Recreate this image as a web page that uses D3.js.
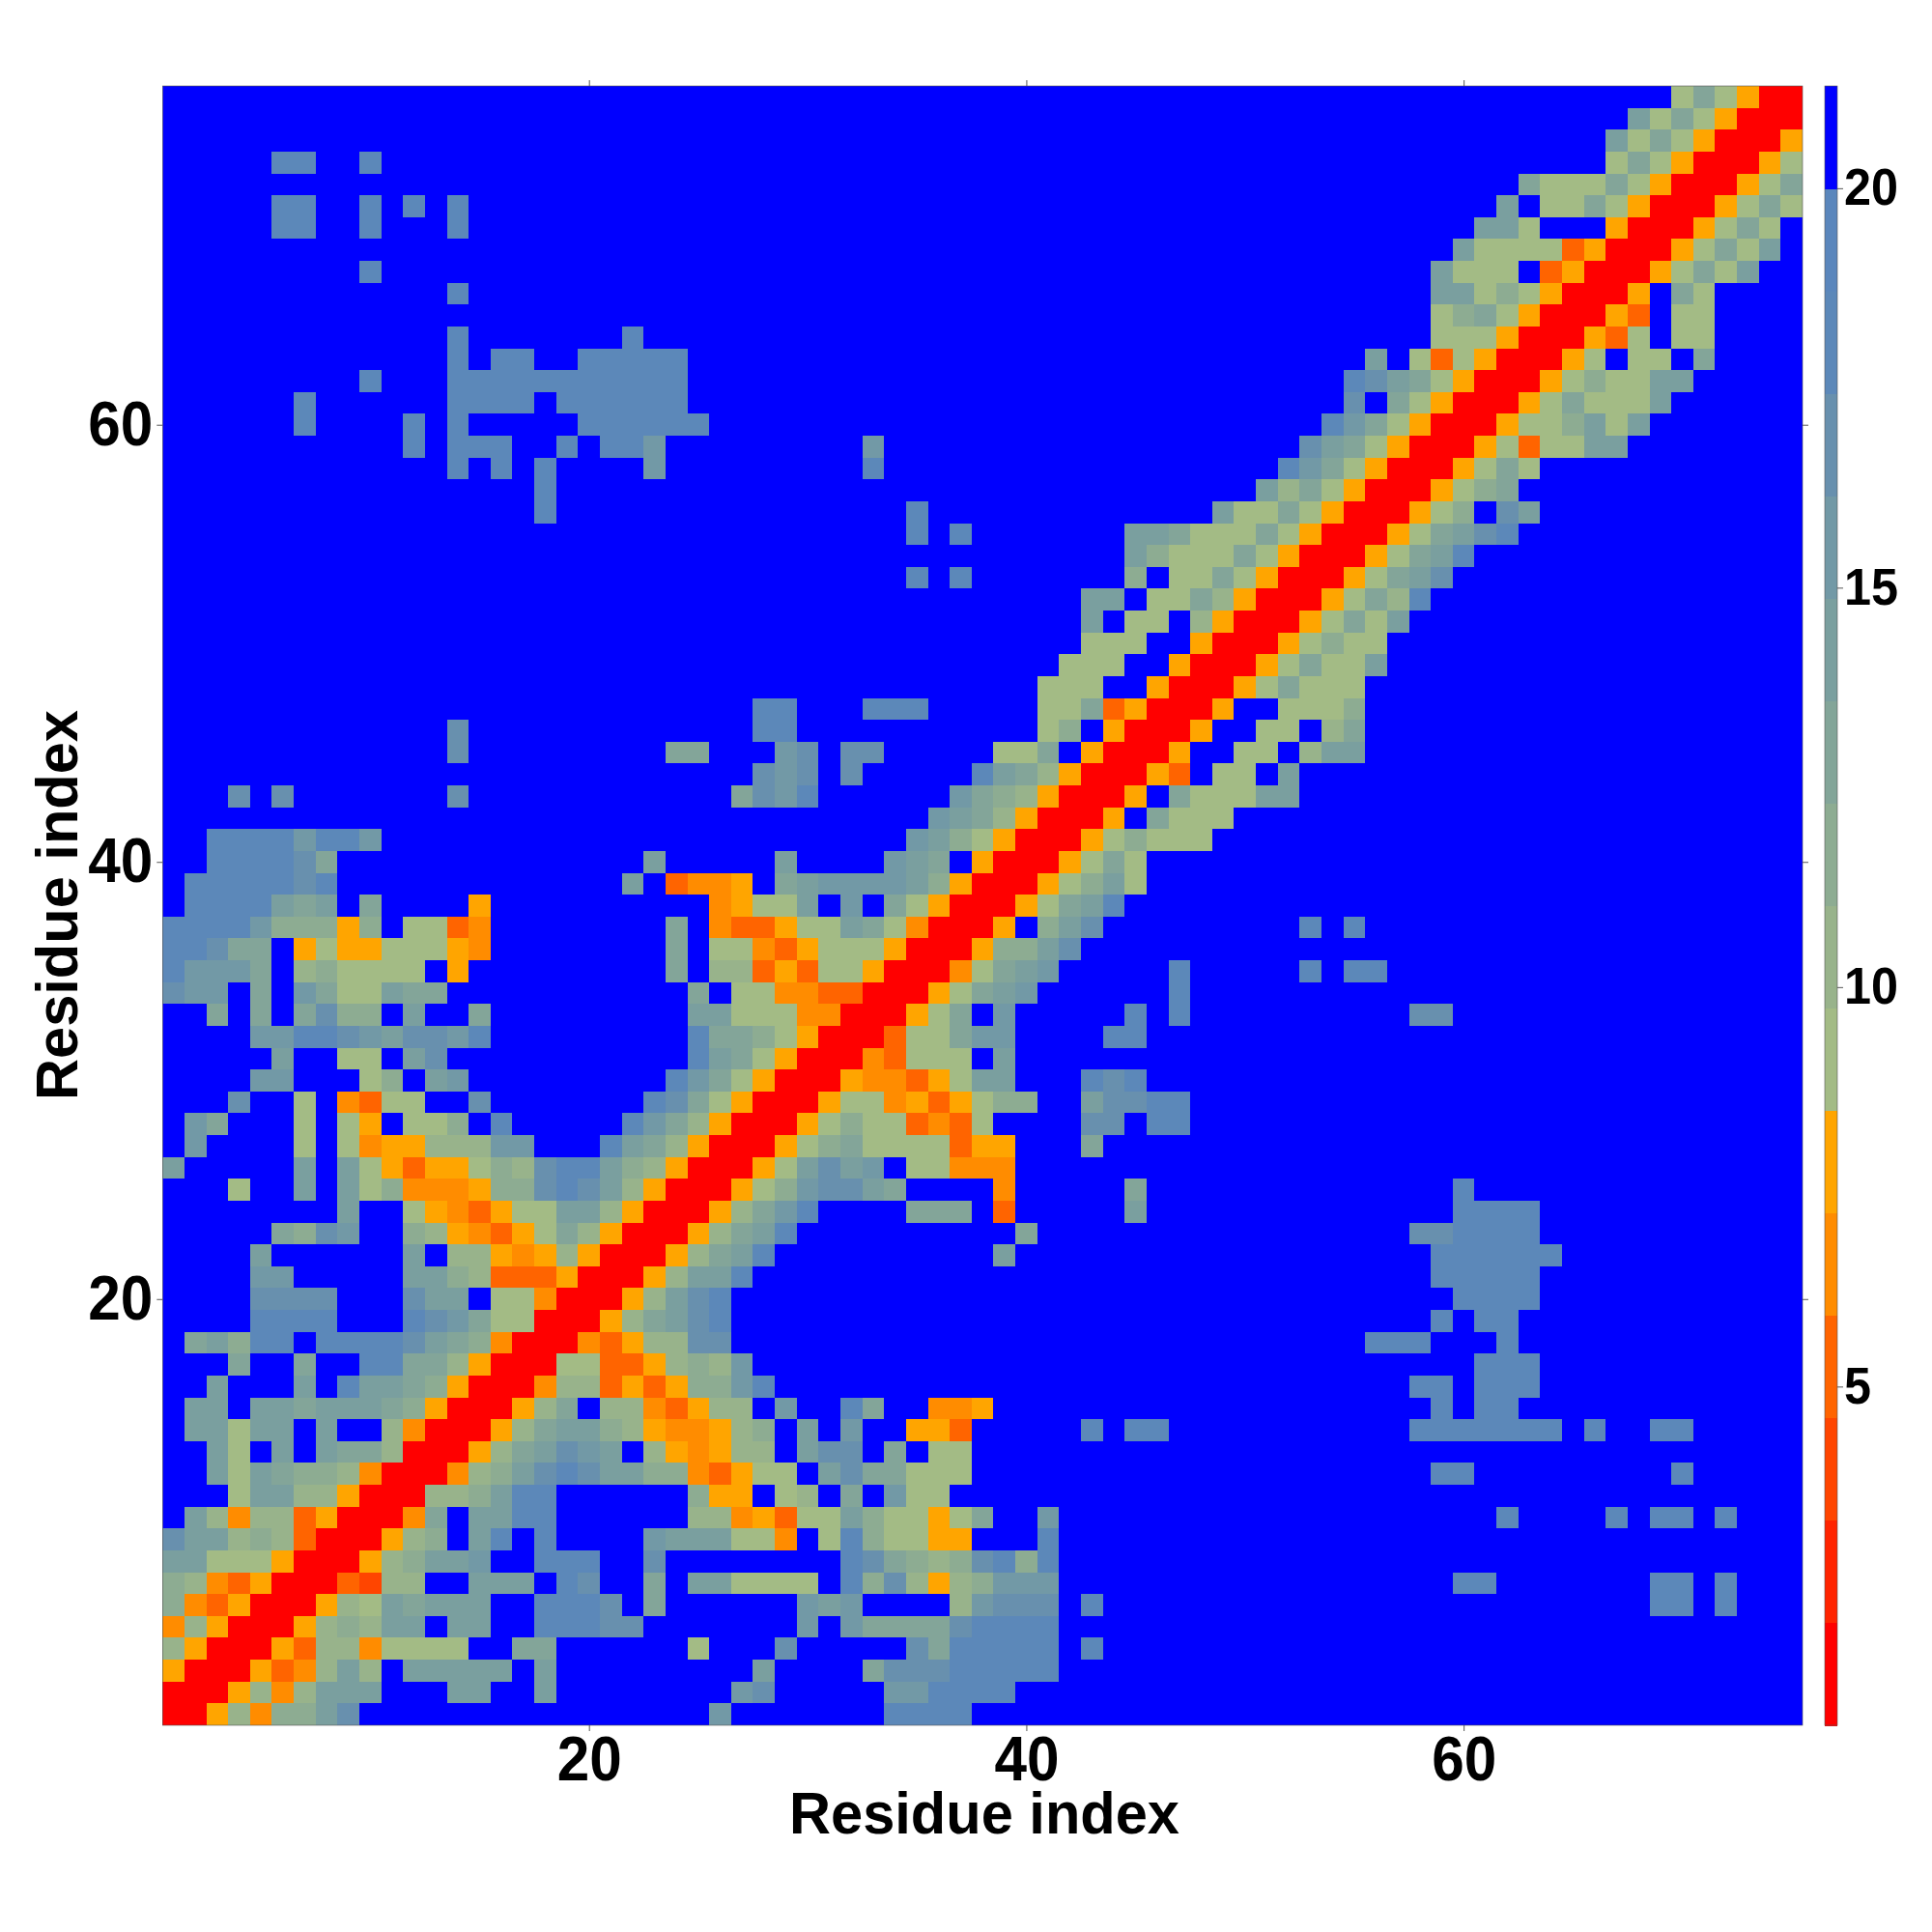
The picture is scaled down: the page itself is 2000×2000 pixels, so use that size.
<!DOCTYPE html>
<html><head><meta charset="utf-8">
<style>html,body{margin:0;padding:0;background:#fff}svg{display:block}</style>
<script src="https://cdn.jsdelivr.net/npm/d3@7"></script>
</head><body>
<div id="chart"></div>
<script>
// Colour classes, lowest distance to highest
const levelCodes = "R12345abcdefghi.";
const levelColors = ["#ff0000","#ff2400","#ff4500","#ff6400","#ff8c00","#ffa500",
  "#a3bb85","#98b38b","#8dac92","#83a599","#7a9f9f","#7299a6","#6890ae","#5c88b9","#5a86bc","#0000ff"];
const colorDomain = [0.76, 21.28];
const axisTicks = [20, 40, 60];
const barTicks = [5, 10, 15, 20];
const axisTitle = "Residue index";
const residueCount = 75;
// Runs of cells per row, top row (residue 75) first: "column:classes"
const rowRuns = [
"70:ada5RR",
"68:eada5RRR",
"67:eada5RRR5",
"6:hh 10:h 67:ada5RRR5a",
"63:daaada5RRR5ad",
"6:hh 12:h 10:h 14:h 62:e.aada5RRR5ada",
"6:hh 10:h 14:h 61:eea...5RRR5ada",
"60:eaaaa35RRR5adae",
"10:h 59:eaaa.35RRR5adae",
"14:h 59:eeaca5RRR5.da",
"59:acda5RRR53.aa",
"14:h 22:h 59:aaa5RRR53a.aa",
"14:h 16:hh 20:hhhhh 56:e.a3a5RRR5a.aa.d",
"10:h 14:hhhhhhhhhhh 55:hgeda5RRR5acaaee",
"7:h 14:hhhh 19:hhhhhh 55:g.da5RRR5adaaae",
"7:h 12:h 14:h 20:hhhhhh 54:hfda5RRR5aaceae",
"12:h 14:hhh 19:h 21:hhf 33:f 53:geda5RRR5a3aaee",
"14:h 16:h 18:h 23:f 33:h 52:hfda5RRR5ada",
"18:h 51:ebda5RRR5acd",
"18:h 35:h 49:eaada5RRR5ac.ge",
"35:h 37:h 45:eedaaada5RRR5adegh",
"45:ecaaada5RRR5adeh",
"35:h 37:h 45:c.aada5RRR5adeg",
"43:ee.aadb5RRR5adbh",
"43:e.aa.b5RRR5adae",
"43:aaa..5RRR5acaa",
"42:aaa..5RRR5adaae",
"41:aaa..5RRR5adaaa",
"28:hh 33:hhh 41:aad35RRR5..aaac",
"14:g 28:hh 41:ac.5RRR5..aa.bd",
"14:g 24:dd 29:fg 32:gg 39:aad.5RRR5..aa.bee",
"28:gfg 32:g 38:hedb5RRR53.aa.e",
"4:g 6:g 14:g 27:dgfh 37:fdcb5RRR5.daaaee",
"36:fedb5RRR5.daaa",
"3:hhhhfhhf 35:feca5RRR5acaaa",
"3:hhhhgd 23:e 29:e 34:fed.5RRR5ada",
"2:hhhhhgh 22:e 24:3445.deffffec5RRR5acea",
"2:hhhhede.d 15:5 26:45aae.f.da5RRR5adeh",
"1:hhhhfccc5c.aa34 24:d 26:4335aaeda4RRR5.ceg 53:h 55:h",
"1:hhgdd.5a55aaa54 24:d 26:aa435aaa5RRR5cceg",
"1:hfffd.bcaaaa.5 24:d 26:bb353aa5RRR4adef 47:h 53:h 55:hh",
"1:gff.d.fdaaedd 25:d.aa4433RRR5adef 47:h",
"3:d 5:d 7:dgcc.e 15:d 25:eeaaa44RRR5ad.f 45:h 47:h 58:gg",
"5:ffhhgfeggfh 25:hddca5RRR3aadff 44:hh",
"6:e 9:aa.eg 25:heda5RRR43aaa.e",
"5:ff 10:ac.ef 24:hfda5RRR54435aee 43:hgh",
"4:g 7:a 9:43aa 15:g 23:hgda5RRR5aa4535acc 43:egghh",
"2:fd 7:a 9:a5.aac.h 22:hfdb5RRR5acaa343a 43:gg 46:hh",
"2:f 7:a 9:a455bbbff 21:hedb5RRR5acdaaaa355 43:d",
"1:e 7:e 9:ea5355acbghhecb5RRR5aegef.aa444",
"4:a 7:e 9:eac4445ccghgeb5RRR5acfgged 39:4 45:d 60:h",
"9:e 12:a5435aaeeb5RRR5bdfh 35:ddd 39:3 45:e 60:hhhh",
"6:dcgf 12:cb5435adb5RRR5bdeh 40:d 58:gghhhh",
"5:e 12:e.bb545b5RRR5bdeh 39:e 59:hhhhhh",
"5:ff 12:eecb3335RRR5beeh 59:hhhhh",
"5:gggg 12:gee.aa4RRR5begh 60:hhhh",
"5:hhhh 12:hgfdaaRRR5bdegh 59:h 61:hh",
"2:dechh.hhhhgedc4RRR435bbgg 56:hhh 62:h",
"4:d 7:d 10:hhddb5RRRaa335bcbf 61:hhh",
"3:e 7:e 9:heedc5RRR4bb3535ccfh 58:hh 61:hhh",
"2:ee 5:eedeeedc5RRR5bd.bb435bb.f..hd..445 59:h 61:hh",
"2:eeaee.e..b4RRR5bdeecb5445bc.e.f..553 43:h 45:hh 58:hhhhhhh 66:h 69:hh",
"3:ea.e.eddbRRR5bdegfe.b545bb.egg.d.aa",
"3:eaedccb4RRR4bceghgeecc435aa.egddaaa 59:hh 70:h",
"4:aeebb5RRRbbcehh......c55.ab.d.faa",
"2:eb4bb35RRR4d.eehh 25:bb453aaecaa5ad 41:f 62:h 67:h 69:hh 72:h",
"1:geebcb3RRR5bc.eh.h....feeeaa4.ahcaa55 41:h",
"1:eeaaa5RRR5bceef..hhh..g 32:hgdcbcghch",
"1:cb435RRR32bb..eee.hg..d.eeaaaa.hcgb5bcfff 60:hh 69:hh 72:h",
"1:c435RRR5baedeee..hhhg.d 30:fef 37:bfggg 43:h 69:hh 72:h",
"1:4b5RRR5bcbee.ee..hhhgg 30:f.fddddghhhh",
"1:b5RRR53bb4aaaa..dd 25:a 29:g 35:gdhhhhh 43:h",
"1:5RRR534beb.eeeee.e 28:e 33:dggghhhhh",
"1:RRR5b4beee...ee..e 27:fg 34:ffhhhh",
"1:RR5b4cceg 26:f 34:hhhh"
];

const font = '"Liberation Sans", Arial, sans-serif';
const W = 2000, H = 2000;
const plot = {l:168.3, r:1866, t:89, b:1786};
const bar = {l:1889, r:1902};

const svg = d3.select("#chart").append("svg").attr("width",W).attr("height",H)
  .style("font-family",font);

const x = d3.scaleLinear().domain([0.5,residueCount+0.5]).range([plot.l,plot.r]);
const y = d3.scaleLinear().domain([0.5,residueCount+0.5]).range([plot.b,plot.t]);
const step = (colorDomain[1]-colorDomain[0])/levelColors.length;
const color = d3.scaleQuantize().domain(colorDomain).range(levelColors);
const valueOf = code => colorDomain[0]+(levelCodes.indexOf(code)+0.5)*step;

const cells = [];
rowRuns.forEach((line,i)=>{
  const row = residueCount-i;
  line.split(" ").forEach(run=>{
    const [start,codes] = run.split(":");
    [...codes].forEach((code,k)=>{
      if(code!==".") cells.push({col:+start+k,row,value:valueOf(code)});
    });
  });
});

// background: the top class
svg.append("rect").attr("x",plot.l).attr("y",plot.t)
  .attr("width",plot.r-plot.l).attr("height",plot.b-plot.t).attr("fill",color(colorDomain[1]-0.01));

svg.append("g").attr("shape-rendering","crispEdges").selectAll("rect").data(cells).join("rect")
  .attr("x",d=>Math.round(x(d.col-0.5)))
  .attr("y",d=>Math.round(y(d.row+0.5)))
  .attr("width",d=>Math.round(x(d.col+0.5))-Math.round(x(d.col-0.5)))
  .attr("height",d=>Math.round(y(d.row-0.5))-Math.round(y(d.row+0.5)))
  .attr("fill",d=>color(d.value));

svg.append("rect").attr("x",plot.l).attr("y",plot.t)
  .attr("width",plot.r-plot.l).attr("height",plot.b-plot.t)
  .attr("fill","none").attr("stroke","#555").attr("stroke-width",0.6);

function styleAxis(g,size,length){
  g.select(".domain").remove();
  g.selectAll(".tick line").attr("stroke","#555").attr("stroke-width",1);
  g.selectAll(".tick text").attr("fill","#000").attr("font-size",size).attr("font-weight","bold")
    .attr("font-family",font)
    .each(function(){
      const n = this.textContent.length;
      if(n) d3.select(this).attr("textLength",length*n/2).attr("lengthAdjust","spacingAndGlyphs");
    });
}

svg.append("g").attr("transform",`translate(0,${plot.b})`)
  .call(d3.axisBottom(x).tickValues(axisTicks).tickSize(6).tickPadding(5.6))
  .call(g=>styleAxis(g,64,67));
svg.append("g").attr("transform",`translate(${plot.l},0)`)
  .call(d3.axisLeft(y).tickValues(axisTicks).tickSize(6).tickPadding(4))
  .call(g=>styleAxis(g,64,67));
svg.append("g").attr("transform",`translate(0,${plot.t})`)
  .call(d3.axisTop(x).tickValues(axisTicks).tickSize(6).tickFormat(""))
  .call(g=>styleAxis(g,64,67));
svg.append("g").attr("transform",`translate(${plot.r},0)`)
  .call(d3.axisRight(y).tickValues(axisTicks).tickSize(6).tickFormat(""))
  .call(g=>styleAxis(g,64,67));

svg.append("text").attr("x",1019).attr("y",1898).attr("text-anchor","middle")
  .attr("font-size",62).attr("font-weight","bold").attr("fill","#000")
  .attr("textLength",404).attr("lengthAdjust","spacingAndGlyphs").text(axisTitle);
svg.append("text").attr("transform","translate(80,937) rotate(-90)").attr("text-anchor","middle")
  .attr("font-size",62).attr("font-weight","bold").attr("fill","#000")
  .attr("textLength",404).attr("lengthAdjust","spacingAndGlyphs").text(axisTitle);

// colour bar
const yBar = d3.scaleLinear().domain(colorDomain).range([plot.b,plot.t]);
svg.append("g").attr("shape-rendering","crispEdges").selectAll("rect").data(levelColors).join("rect")
  .attr("x",bar.l).attr("width",bar.r-bar.l)
  .attr("y",(d,i)=>yBar(colorDomain[0]+(i+1)*step))
  .attr("height",(d,i)=>yBar(colorDomain[0]+i*step)-yBar(colorDomain[0]+(i+1)*step)+0.5)
  .attr("fill",d=>d);
svg.append("rect").attr("x",bar.l).attr("y",plot.t).attr("width",bar.r-bar.l).attr("height",plot.b-plot.t)
  .attr("fill","none").attr("stroke","#555").attr("stroke-width",0.6);
svg.append("g").attr("transform",`translate(${bar.r},0)`)
  .call(d3.axisRight(yBar).tickValues(barTicks).tickSize(6).tickPadding(1))
  .call(g=>styleAxis(g,53,56));
</script>
</body></html>
